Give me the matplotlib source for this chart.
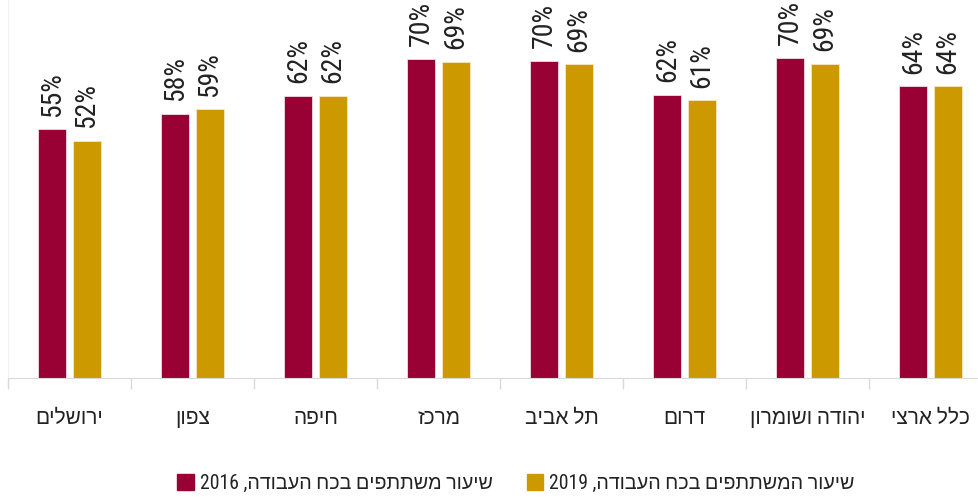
import re
import matplotlib
matplotlib.use('Agg')
import matplotlib.pyplot as plt
from matplotlib.patches import Patch

regions = ['ירושלים', 'צפון', 'חיפה', 'מרכז', 'תל אביב', 'דרום', 'יהודה ושומרון', 'כלל ארצי']
rate_2016 = [54.6, 58.0, 61.9, 70.0, 69.6, 62.1, 70.2, 64.0]
rate_2019 = [52.0, 58.9, 61.9, 69.4, 68.8, 60.9, 68.9, 64.0]
legend_labels = ['שיעור משתתפים בכח העבודה, 2016', 'שיעור המשתתפים בכח העבודה, 2019']

red = '#990033'
gold = '#cc9900'
# Roboto Condensed for digits, Hebrew letters fall through to Liberation Sans
fonts = ['Roboto Condensed', 'Liberation Sans', 'DejaVu Sans']
plt.rcParams['font.family'] = fonts


def heb(s):
    # matplotlib has no bidi support, so flip the string and put numbers back
    r = s[::-1]
    return re.sub(r'\d+', lambda m: m.group()[::-1], r)


fig = plt.figure(figsize=(9.79, 4.98), dpi=100)
ax = fig.add_axes([8 / 979, 120 / 498, 984 / 979, 378 / 498])

x = list(range(len(regions)))
w = 0.23
off = 0.14
b1 = ax.bar([i - off for i in x], rate_2016, w, color=red, edgecolor='#f3dbe2', linewidth=0.6)
b2 = ax.bar([i + off for i in x], rate_2019, w, color=gold, edgecolor='#f6e7bf', linewidth=0.6)

for bars, vals in [(b1, rate_2016), (b2, rate_2019)]:
    for bar, v in zip(bars, vals):
        ax.annotate(f'{v:.0f}%', (bar.get_x() + bar.get_width() / 2, v),
                    xytext=(0, 9), textcoords='offset points', rotation=90,
                    ha='center', va='bottom', fontsize=20, color='#222222')

ax.set_xlim(-0.5, len(regions) - 0.5)
ax.set_ylim(0, 82.9)
ax.set_yticks([])
ax.set_xticks(x)
ax.set_xticklabels([heb(r) for r in regions], fontsize=15, color='#222222')
ax.tick_params(axis='x', which='major', length=0, pad=22)
ax.set_xticks([i - 0.5 for i in range(len(regions) + 1)], minor=True)
ax.tick_params(axis='x', which='minor', length=8, color='#d9d9d9', width=1)

for s in ['top', 'right']:
    ax.spines[s].set_visible(False)
ax.spines['left'].set_color('#f2f2f2')
ax.spines['bottom'].set_color('#d9d9d9')

handles = [Patch(color=red), Patch(color=gold)]
fig.legend(handles, [heb(t) for t in legend_labels], ncol=2, loc='center',
           bbox_to_anchor=(516 / 979, 15 / 498), frameon=False, fontsize=14.2,
           handlelength=0.85, handleheight=0.85, handletextpad=0.3, columnspacing=1.7,
           labelcolor='#222222')

fig.savefig('out.png', dpi=100)
plt.close()
